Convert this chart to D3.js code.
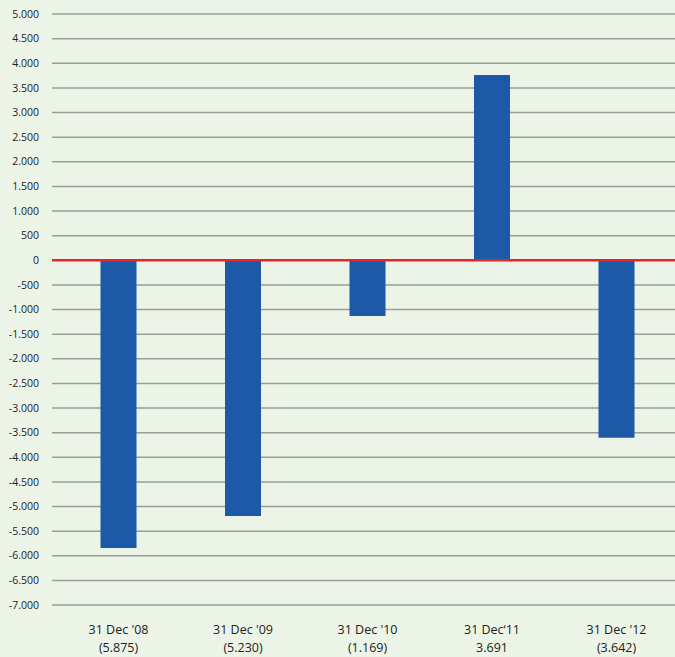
<!DOCTYPE html>
<html><head><meta charset="utf-8">
<script src="https://cdn.jsdelivr.net/npm/d3@7/dist/d3.min.js"></script>
<style>body{margin:0;background:#ecf4e8;} svg{display:block;}</style>
</head><body>
<svg id="c" width="675" height="657"></svg>
<script>
const categories = ["31 Dec '08", "31 Dec '09", "31 Dec '10", "31 Dec\u201811", "31 Dec '12"];
const subLabels = ["(5.875)", "(5.230)", "(1.169)", "3.691", "(3.642)"];
const values = [-5843, -5193, -1132, 3761, -3604];
const tickValues = d3.range(5000, -7001, -500);

const svg = d3.select("#c");
svg.append("rect").attr("width",675).attr("height",657).attr("fill","#ecf4e8");
const y = d3.scaleLinear().domain([-7000, 5000]).range([605, 14]);
const x = d3.scalePoint().domain(categories).range([118.5, 616.5]);
const barW = 36;
const fmt = v => d3.format(",")(v).replace(/,/g, ".").replace("\u2212","-");

// grid
svg.append("g").selectAll("line").data(tickValues.filter(v=>v!==0)).join("line")
  .attr("x1",52).attr("x2",675).attr("y1",d=>y(d)).attr("y2",d=>y(d))
  .attr("stroke","#9a9d98").attr("stroke-width",1.5);
// tick labels
svg.append("g").selectAll("text").data(tickValues).join("text")
  .attr("x",39).attr("y",d=>y(d)).attr("dy","0.35em").attr("text-anchor","end")
  .attr("font-family","Open Sans, sans-serif").attr("font-size",10.5).attr("fill","#222")
  .text(d=>fmt(d));
// bars
svg.append("g").selectAll("rect").data(values).join("rect")
  .attr("x",(d,i)=>x(categories[i])-barW/2).attr("width",barW)
  .attr("y",d=>y(Math.max(0,d))).attr("height",d=>Math.abs(y(d)-y(0)))
  .attr("fill","#1c5aa8");
// zero line
svg.append("line").attr("x1",52).attr("x2",675).attr("y1",y(0)).attr("y2",y(0))
  .attr("stroke","#e2262b").attr("stroke-width",2.5);
// category labels
const lab = svg.append("g").attr("font-family","Open Sans, sans-serif").attr("font-size",12.5).attr("fill","#222").attr("text-anchor","middle");
lab.selectAll("text.a").data(categories).join("text").attr("class","a")
  .attr("x",d=>x(d)).attr("y",634).text(d=>d);
lab.selectAll("text.b").data(subLabels).join("text").attr("class","b")
  .attr("x",(d,i)=>x(categories[i])).attr("y",652).text(d=>d);
</script>
</body></html>
